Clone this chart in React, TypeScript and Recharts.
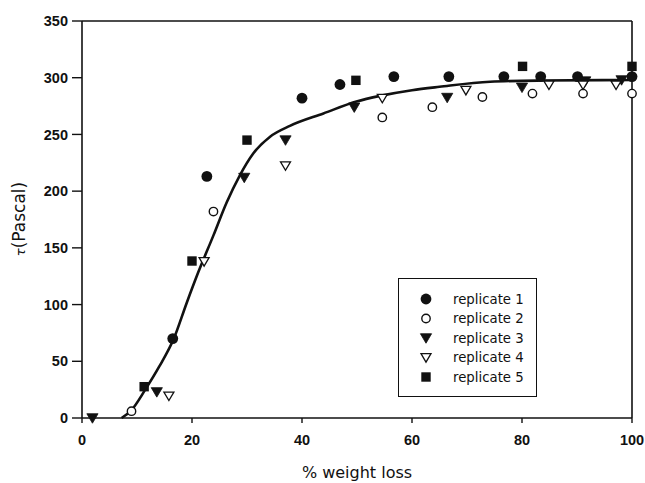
import {
  ComposedChart,
  Scatter,
  Line,
  XAxis,
  YAxis,
  Legend,
  ReferenceLine,
} from 'recharts';

// [ % weight loss, tau (Pa) ]
const replicate1 = [
  [16.5, 70], [22.7, 213], [40, 282], [46.9, 294], [56.7, 301],
  [66.7, 301], [76.7, 301], [83.4, 301], [90.1, 301], [100, 301],
];
const replicate2 = [
  [9, 6], [23.9, 182], [54.6, 265], [63.7, 274], [72.8, 283],
  [81.9, 286], [91.1, 286], [100, 286],
];
const replicate3 = [
  [1.9, 0], [13.6, 23], [29.5, 212], [37, 245], [49.5, 274],
  [66.4, 282.5], [80, 291.5], [91.5, 297], [98.1, 298],
];
const replicate4 = [
  [15.8, 19.5], [22.2, 138], [37, 222.5], [54.6, 282], [69.8, 289],
  [84.9, 293.7], [91.1, 293.7], [97.1, 293.7],
];
const replicate5 = [
  [11.3, 27.6], [20, 138.4], [30, 245], [49.8, 297.7], [80.1, 310], [100, 310],
];
// fitted curve, traced point by point
const fitCurve = [
  [7.2, 0], [9, 7], [11.5, 25], [14, 45], [16.7, 70], [19, 101],
  [21.1, 128], [23.9, 161], [26.3, 190], [28.7, 214], [31.1, 233],
  [34.2, 248], [37.8, 257.5], [43.9, 268.5], [49.9, 279], [54.2, 284],
  [60, 289], [65, 292], [74.2, 296.5], [83.3, 297.5], [100, 298],
];

const xTicks = [0, 20, 40, 60, 80, 100];
const yTicks = [0, 50, 100, 150, 200, 250, 300, 350];

const toPoints = (rows: number[][]) => rows.map(([x, y]) => ({ x, y }));

const INK = '#111';
const FONT = '"DejaVu Sans", "Liberation Sans", Arial, sans-serif';
const TICK_FONT = '"Liberation Sans", Arial, sans-serif';

type Kind = 'circle' | 'triangle' | 'square';

const series: { name: string; rows: number[][]; kind: Kind; filled: boolean }[] = [
  { name: 'replicate 1', rows: replicate1, kind: 'circle', filled: true },
  { name: 'replicate 2', rows: replicate2, kind: 'circle', filled: false },
  { name: 'replicate 3', rows: replicate3, kind: 'triangle', filled: true },
  { name: 'replicate 4', rows: replicate4, kind: 'triangle', filled: false },
  { name: 'replicate 5', rows: replicate5, kind: 'square', filled: true },
];

const Marker = ({ cx, cy, kind, filled }: { cx: number; cy: number; kind: Kind; filled: boolean }) => {
  const fill = filled ? INK : '#fff';
  if (kind === 'circle') {
    return filled ? (
      <circle cx={cx} cy={cy} r={5.4} fill={INK} />
    ) : (
      <circle cx={cx} cy={cy} r={4.2} fill="#fff" stroke={INK} strokeWidth={1.4} />
    );
  }
  if (kind === 'triangle') {
    const w = filled ? 5.6 : 5;
    const h = filled ? 9.5 : 8.5;
    return (
      <path
        d={`M${cx - w},${cy - h * 0.45}L${cx + w},${cy - h * 0.45}L${cx},${cy + h * 0.55}Z`}
        fill={fill}
        stroke={INK}
        strokeWidth={filled ? 0.8 : 1.3}
      />
    );
  }
  return <rect x={cx - 4.7} y={cy - 4.7} width={9.4} height={9.4} fill={fill} />;
};

const LegendBox = () => (
  <svg width={139} height={119} style={{ display: 'block' }}>
    <rect x={0.5} y={0.5} width={138} height={118} fill="#fff" stroke={INK} strokeWidth={1} />
    {series.map((s, i) => (
      <g key={s.name}>
        <Marker cx={28} cy={21 + i * 19.5} kind={s.kind} filled={s.filled} />
        <text
          x={55}
          y={21 + i * 19.5}
          dy="0.36em"
          fontFamily={FONT}
          fontSize={13.3}
          fill={INK}
        >
          {s.name}
        </text>
      </g>
    ))}
  </svg>
);

const YTitle = () => (
  <text
    x={25}
    y={219}
    transform="rotate(-90 25 219)"
    textAnchor="middle"
    fontFamily={FONT}
    fontSize={17}
    style={{ fill: INK }}
  >
    <tspan fontStyle="italic" fontSize={13} style={{ fill: INK }}>τ</tspan>
    <tspan style={{ fill: INK }}>(Pascal)</tspan>
  </text>
);

const tickStyle = { fontFamily: TICK_FONT, fontSize: 14.5, fontWeight: 700, fill: INK };

const App = () => {
  return (
    <div style={{ position: 'absolute', left: 0, top: 0, background: '#fff' }}>
      <ComposedChart width={645} height={483} margin={{ top: 21, right: 13, bottom: 0, left: 0 }}>
        <XAxis
          dataKey="x"
          type="number"
          domain={[0, 100]}
          ticks={xTicks}
          height={65}
          tickSize={5}
          tickMargin={12}
          tick={tickStyle}
          axisLine={{ stroke: INK, strokeWidth: 1.6 }}
          tickLine={{ stroke: INK, strokeWidth: 1.4 }}
          label={{
            value: '% weight loss',
            position: 'insideBottom',
            offset: 5,
            style: { fontFamily: FONT, fontSize: 16, fill: INK },
          }}
        />
        <YAxis
          dataKey="y"
          type="number"
          domain={[0, 350]}
          ticks={yTicks}
          width={82}
          tickSize={10}
          tickMargin={4}
          tick={tickStyle}
          axisLine={{ stroke: INK, strokeWidth: 1.6 }}
          tickLine={{ stroke: INK, strokeWidth: 1.4 }}
          label={{ content: () => <YTitle /> }}
        />
        <ReferenceLine y={350} stroke={INK} strokeWidth={1.6} />
        <ReferenceLine x={100} stroke={INK} strokeWidth={1.6} />
        <Line
          data={toPoints(fitCurve)}
          dataKey="y"
          type="monotone"
          stroke={INK}
          strokeWidth={2.6}
          dot={false}
          activeDot={false}
          legendType="none"
          isAnimationActive={false}
        />
        {series.map((s) => (
          <Scatter
            key={s.name}
            name={s.name}
            data={toPoints(s.rows)}
            isAnimationActive={false}
            shape={(p: any) => <Marker cx={p.cx} cy={p.cy} kind={s.kind} filled={s.filled} />}
          />
        ))}
        <Legend
          layout="vertical"
          align="center"
          verticalAlign="middle"
          content={() => <LegendBox />}
          wrapperStyle={{ left: 398, top: 278, width: 139, height: 119 }}
        />
      </ComposedChart>
    </div>
  );
};

export default App;
